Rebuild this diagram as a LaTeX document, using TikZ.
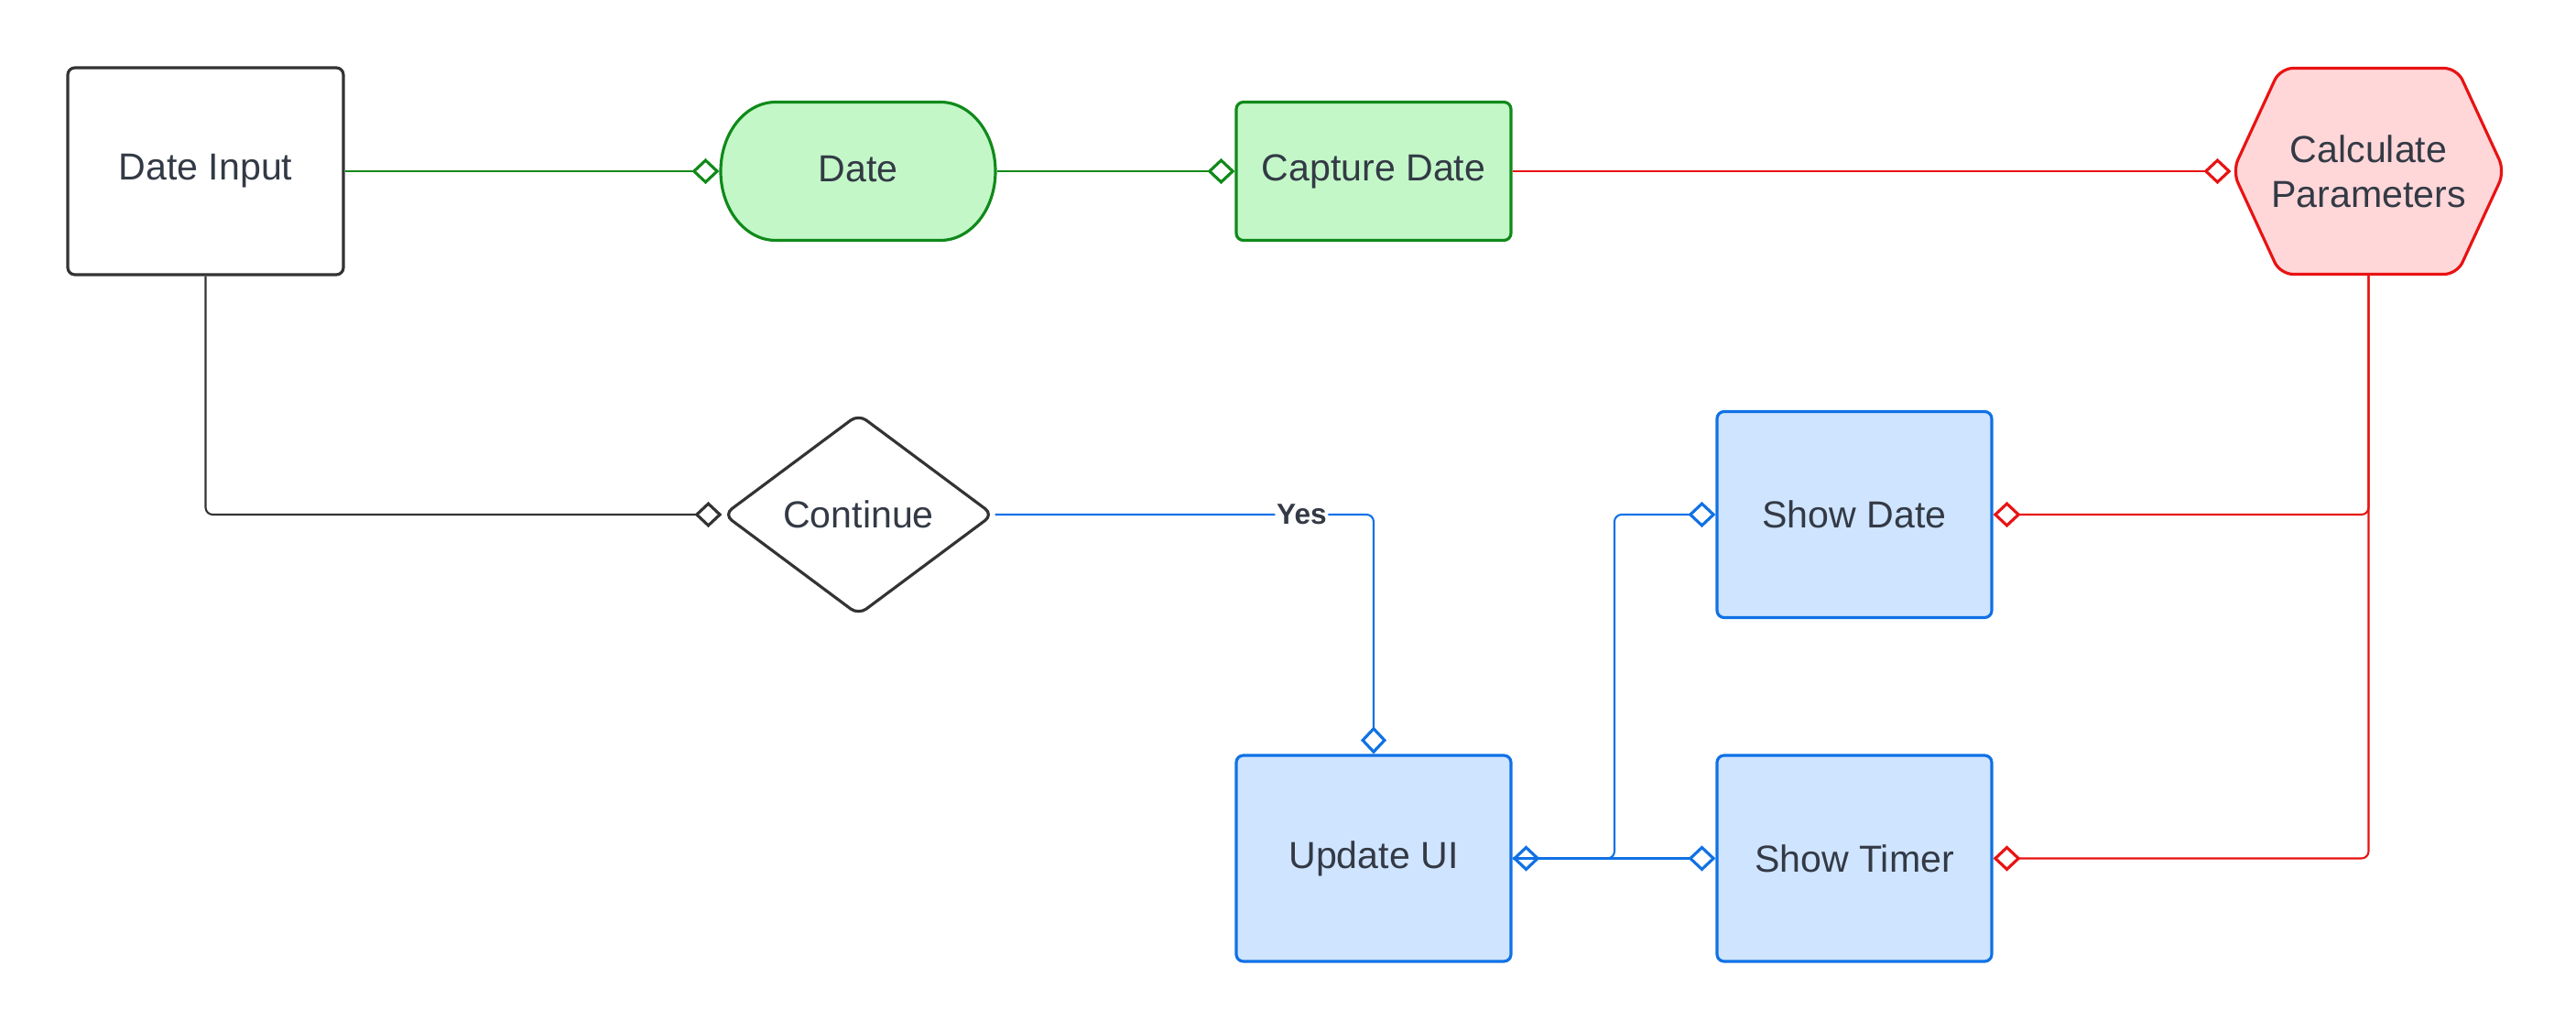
\documentclass[tikz,border=0pt]{standalone}
\usepackage{fontspec}
\setmainfont{Liberation Sans}
\usetikzlibrary{positioning}
\usetikzlibrary{shapes.geometric}
\usetikzlibrary{arrows.meta}

\definecolor{txtgray}{HTML}{333A45}
\definecolor{blkline}{HTML}{333333}
\definecolor{grnline}{HTML}{108A1A}
\definecolor{grnfill}{HTML}{C3F7C8}
\definecolor{redline}{HTML}{E81313}
\definecolor{redfill}{HTML}{FFD7D9}
\definecolor{bluline}{HTML}{1071E5}
\definecolor{blufill}{HTML}{CFE4FF}

\begin{document}
\begin{tikzpicture}[
  >={Diamond[open,length=8.5pt,width=8pt,line width=0.9pt]},
  box/.style={rectangle,rounded corners=2.2pt,line width=0.9pt,minimum width=3cm,minimum height=2.25cm,text=txtgray,font=\fontsize{11.7}{14}\selectfont,align=center},
  conn/.style={line width=0.6pt,rounded corners=2.2pt,->},
  yeslbl/.style={fill=white,inner sep=0.5pt,text=txtgray,font=\bfseries\fontsize{9}{10}\selectfont}
]
\useasboundingbox (0,0) rectangle (28.13,11.25);

\node[box,draw=blkline,minimum width=3.01cm,minimum height=2.26cm] (dateinput) at (2.245,9.38) {Date Input};

\draw[draw=grnline,fill=grnfill,line width=0.9pt] (8.47,10.135) -- (10.27,10.135) arc[start angle=90,end angle=-90,x radius=0.6,y radius=0.755] -- (8.47,8.625) arc[start angle=270,end angle=90,x radius=0.6,y radius=0.755] -- cycle;
\node[box,minimum height=1.51cm] (date) at (9.37,9.4) {Date};

\node[box,draw=grnline,fill=grnfill,minimum height=1.51cm] (capture) at (15,9.38) {Capture Date};

\draw[draw=redline,fill=redfill,line width=0.9pt,rounded corners=4pt] (25.865,10.505) -- (26.83,10.505) -- (27.35,9.38) -- (26.83,8.255) -- (24.90,8.255) -- (24.38,9.38) -- (24.90,10.505) -- cycle;
\node[box,minimum width=2.97cm] (calc) at (25.865,9.38) {Calculate\\Parameters};

\node[diamond,draw=blkline,line width=0.9pt,rounded corners=3pt,minimum width=2.95cm,minimum height=2.2cm,inner sep=0pt,text=txtgray,font=\fontsize{11.7}{14}\selectfont] (continue) at (9.375,5.63) {Continue};

\node[box,draw=bluline,fill=blufill] (showdate) at (20.25,5.63) {Show Date};
\node[box,draw=bluline,fill=blufill] (update) at (15,1.875) {Update UI};
\node[box,draw=bluline,fill=blufill] (showtimer) at (20.25,1.875) {Show Timer};

\draw[conn,grnline] (dateinput.east) -- (date.west |- dateinput.east);
\draw[conn,grnline] (date.east |- capture.west) -- (capture.west);
\draw[conn,redline] (capture.east) -- (calc.west);
\draw[conn,redline] (calc.south) |- (showdate.east);
\draw[conn,redline] (calc.south) |- (showtimer.east);
\draw[conn,blkline] (dateinput.south) |- (continue.west);
\draw[conn,bluline] (continue.east) -- node[yeslbl,pos=0.81] {Yes} (update.north |- continue.east) -- (update.north);

\coordinate (split) at (17.63,1.875);
\draw[conn,bluline,<->] (update.east) -- (split) |- (showdate.west);
\draw[conn,bluline] (update.east) -- (showtimer.west);

\end{tikzpicture}
\end{document}
